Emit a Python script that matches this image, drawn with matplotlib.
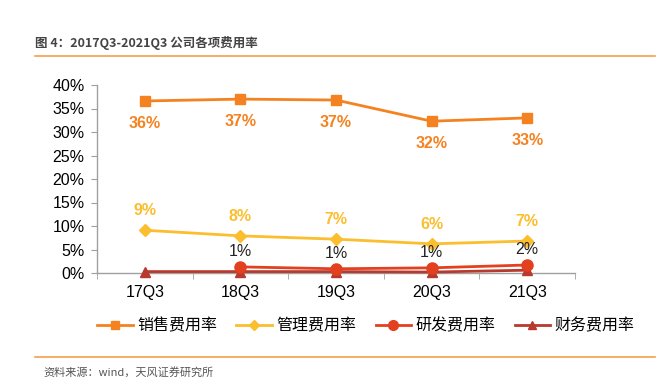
"""
plot.py -- 2017Q3-2021Q3 公司各项费用率 (Linienchart, Nachbau der Vorlage).
"""

import matplotlib

matplotlib.use("Agg")
import matplotlib.pyplot as plt
from matplotlib.lines import Line2D
from matplotlib.ticker import FixedLocator, PercentFormatter

plt.rcParams["font.family"] = ["Liberation Sans", "Noto Sans CJK SC", "DejaVu Sans"]

# -----------------------------------------------------------------------------
# Daten (in %)
# -----------------------------------------------------------------------------
quarters = ["17Q3", "18Q3", "19Q3", "20Q3", "21Q3"]
sales_rate = [36.6, 37.0, 36.8, 32.3, 33.0]
admin_rate = [9.1, 7.9, 7.2, 6.2, 6.8]
rd_rate = [None, 1.3, 0.9, 1.1, 1.7]
fin_rate = [0.3, 0.3, 0.3, 0.2, 0.6]

sales_labels = ["36%", "37%", "37%", "32%", "33%"]
admin_labels = ["9%", "8%", "7%", "6%", "7%"]
rd_labels = [None, "1%", "1%", "1%", "2%"]

series_names = ["销售费用率", "管理费用率", "研发费用率", "财务费用率"]

# Farben / Marker
C_SALES = "#F58220"
C_ADMIN = "#FBBE2E"
C_RD = "#E2401F"
C_FIN = "#B83A2E"
C_ACCENT = "#F5A04A"

fig = plt.figure(figsize=(6.59, 3.80), dpi=100)
ax = fig.add_axes([97 / 659, 1 - 273 / 380, (575 - 97) / 659, (273 - 85) / 380])

x = list(range(len(quarters)))


def plot_series(vals, color, marker, ms):
    pts = [(i, v) for i, v in zip(x, vals) if v is not None]
    ax.plot(
        [p[0] for p in pts],
        [p[1] for p in pts],
        color=color,
        lw=2,
        marker=marker,
        ms=ms,
        zorder=3,
        clip_on=False,
    )


plot_series(sales_rate, C_SALES, "s", 7)
plot_series(admin_rate, C_ADMIN, "D", 6)
plot_series(fin_rate, C_FIN, "^", 7)
plot_series(rd_rate, C_RD, "o", 8)

# Datenlabels
lab_font = dict(fontsize=11.5, ha="center", fontweight="bold")
for i, (v, t) in enumerate(zip(sales_rate, sales_labels)):
    ax.annotate(t, (i, v), xytext=(0, -16), textcoords="offset points",
                color=C_SALES, va="center", **lab_font)
for i, (v, t) in enumerate(zip(admin_rate, admin_labels)):
    ax.annotate(t, (i, v), xytext=(0, 14), textcoords="offset points",
                color=C_ADMIN, va="center", **lab_font)
for i, (v, t) in enumerate(zip(rd_rate, rd_labels)):
    if v is None:
        continue
    ax.annotate(t, (i, v), xytext=(0, 11), textcoords="offset points",
                color="#222222", va="center", fontsize=11.5, ha="center")

# Achsen
ax.set_xlim(-0.5, len(quarters) - 0.5)
ax.set_ylim(0, 40)
ax.yaxis.set_major_locator(FixedLocator(range(0, 41, 5)))
ax.yaxis.set_major_formatter(PercentFormatter(decimals=0))
ax.set_xticks(x)
ax.set_xticklabels(quarters)
ax.xaxis.set_minor_locator(FixedLocator([i + 0.5 for i in range(-1, len(quarters))]))
ax.tick_params(axis="x", which="major", length=0, pad=9, labelsize=11.5)
ax.tick_params(axis="x", which="minor", length=4, color="#a0a0a0", direction="out")
ax.tick_params(axis="y", length=4, color="#a0a0a0", labelsize=11.5, pad=5)
for s in ["top", "right"]:
    ax.spines[s].set_visible(False)
for s in ["left", "bottom"]:
    ax.spines[s].set_color("#a0a0a0")
    ax.spines[s].set_linewidth(1)

# Legende
handles = [
    Line2D([], [], color=C_SALES, lw=2, marker="s", ms=6),
    Line2D([], [], color=C_ADMIN, lw=2, marker="D", ms=5),
    Line2D([], [], color=C_RD, lw=2, marker="o", ms=7),
    Line2D([], [], color=C_FIN, lw=2, marker="^", ms=6),
]
fig.legend(
    handles,
    series_names,
    loc="center",
    bbox_to_anchor=(366 / 659, 1 - 326 / 380),
    ncol=4,
    frameon=False,
    handlelength=2.2,
    handletextpad=0.3,
    columnspacing=1.2,
    prop={"family": ["Noto Sans CJK SC"], "size": 11.5},
)

# Titel + Quelle mit Trennlinien
fig.text(35 / 659, 1 - 43 / 380, "图 4：2017Q3-2021Q3 公司各项费用率",
         fontsize=9, fontweight="bold", color="#444444",
         family=["Noto Sans CJK SC"], va="center")
fig.add_artist(Line2D([35 / 659, 655 / 659], [1 - 56 / 380] * 2,
                      color=C_ACCENT, lw=1.2))
fig.add_artist(Line2D([35 / 659, 655 / 659], [1 - 357 / 380] * 2,
                      color=C_ACCENT, lw=1.2))
fig.text(43 / 659, 1 - 372 / 380, "资料来源：wind，天风证券研究所",
         fontsize=8, color="#555555", family=["Noto Sans CJK SC"], va="center")

fig.savefig("out.png", dpi=100)
